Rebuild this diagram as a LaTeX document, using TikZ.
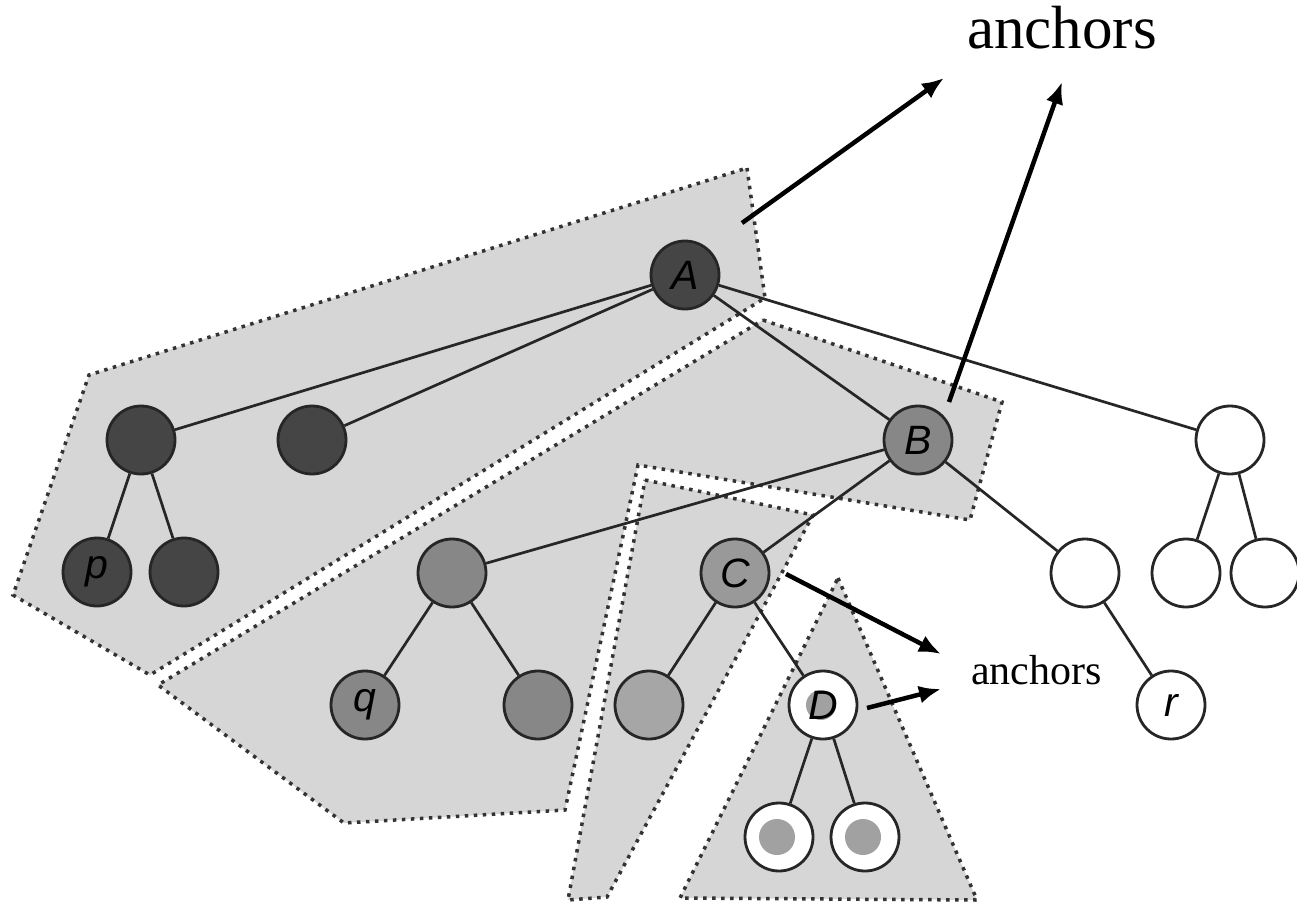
\documentclass[tikz,border=0pt]{standalone}
\usepackage{fontspec}
\setmainfont{Liberation Serif}
\newfontfamily\labelfont{Liberation Sans}
\usetikzlibrary{arrows.meta}

\definecolor{regiongray}{gray}{0.84}
\definecolor{nodedark}{gray}{0.27}
\definecolor{nodemid}{gray}{0.53}
\definecolor{nodelight}{gray}{0.60}
\definecolor{nodelighter}{gray}{0.65}
\definecolor{dotgray}{gray}{0.63}

\begin{document}
\begin{tikzpicture}[x=1pt,y=-1pt,
  region/.style={fill=regiongray, draw=black!80, line width=3.5pt, dash pattern=on 3.5pt off 5.5pt},
  vert/.style={circle, draw=black!85, line width=2.8pt, minimum size=68pt, inner sep=0pt,
    font=\labelfont\itshape\fontsize{41}{41}\selectfont},
  dk/.style={vert, fill=nodedark},
  md/.style={vert, fill=nodemid},
  lt/.style={vert, fill=nodelight},
  ltt/.style={vert, fill=nodelighter},
  wh/.style={vert, fill=white},
  dotted vert/.style={wh, path picture={\fill[dotgray] ([xshift=-2pt]path picture bounding box.center) circle[radius=#1];}},
  edge/.style={line width=2.7pt, draw=black!85},
  pointer/.style={line width=4.5pt, -{Latex[length=22pt,width=18pt]}},
]
\useasboundingbox (0,0) rectangle (1297,904);

% shaded regions of the tree
\path[region] (747,168) -- (765,298) -- (150,675) -- (13,595) -- (89,375) -- cycle;
\path[region] (763,320) -- (1002,402) -- (970,520) -- (638,465) -- (565,810) -- (344,823) -- (158,685) -- cycle;
\path[region] (645,480) -- (813,515) -- (607,897) -- (568,900) -- cycle;
\path[region] (838,578) -- (977,900) -- (680,898) -- cycle;

% vertices
\node[dk] (A) at (685,275) {A};
\node[dk] (L1) at (141,440) {};
\node[dk] (L2) at (312,440) {};
\node[dk] (p) at (97,572) {p};
\node[dk] (p2) at (184,572) {};
\node[md] (B) at (918,440) {B};
\node[wh] (W) at (1230,440) {};
\node[md] (Q) at (452,573) {};
\node[lt] (C) at (735,573) {C};
\node[wh] (W2) at (1085,573) {};
\node[wh] (W3) at (1186,573) {};
\node[wh] (W4) at (1265,573) {};
\node[md] (q) at (365,705) {q};
\node[md] (Q2) at (538,705) {};
\node[ltt] (C1) at (649,705) {};
\node[dotted vert=15pt] (D) at (823,705) {D};
\node[wh] (r) at (1171,705) {r};
\node[dotted vert=18pt] (D1) at (779,837) {};
\node[dotted vert=18pt] (D2) at (865,837) {};

% tree edges
\draw[edge] (A) -- (L1);
\draw[edge] (A) -- (L2);
\draw[edge] (A) -- (B);
\draw[edge] (A) -- (W);
\draw[edge] (L1) -- (p);
\draw[edge] (L1) -- (p2);
\draw[edge] (B) -- (Q);
\draw[edge] (B) -- (C);
\draw[edge] (B) -- (W2);
\draw[edge] (W) -- (W3);
\draw[edge] (W) -- (W4);
\draw[edge] (Q) -- (q);
\draw[edge] (Q) -- (Q2);
\draw[edge] (C) -- (C1);
\draw[edge] (C) -- (D);
\draw[edge] (W2) -- (r);
\draw[edge] (D) -- (D1);
\draw[edge] (D) -- (D2);

% captions
\node[anchor=base west, inner sep=0pt, font=\fontsize{61}{61}\selectfont] (top) at (967,49) {anchors};
\node[anchor=base west, inner sep=0pt, font=\fontsize{42}{42}\selectfont] (low) at (971,684) {anchors};

% pointers to the captions
\coordinate (s1) at (742,223);
\coordinate (e1) at (944,78);
\coordinate (s2) at (949,402);
\coordinate (e2) at (1062,82);
\coordinate (s3) at (786,574);
\coordinate (e3) at (941,654);
\coordinate (s4) at (867,708);
\coordinate (e4) at (941,689);
\draw[pointer] (s1) -- (e1);
\draw[pointer] (s2) -- (e2);
\draw[pointer] (s3) -- (e3);
\draw[pointer] (s4) -- (e4);
\end{tikzpicture}
\end{document}
